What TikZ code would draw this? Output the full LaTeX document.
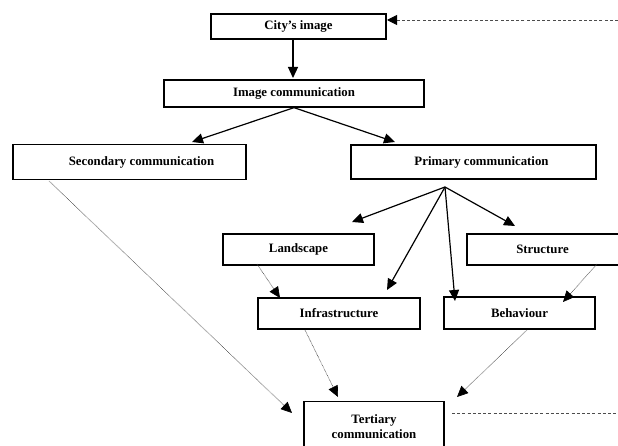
\documentclass[tikz,border=0pt]{standalone}
\usepackage{fontspec}
\setmainfont{Liberation Serif}
\usetikzlibrary{arrows.meta}
\tikzstyle{box}=[draw, line width=1.3pt, rectangle, inner sep=2pt, font=\fontsize{12.8}{15}\selectfont\bfseries]
\tikzstyle{arr}=[line width=1.2pt, -{Triangle[length=11pt,width=10pt]}]
\tikzstyle{dots}=[line width=0.6pt, gray!60!black, dash pattern=on 0.7pt off 0.7pt, -{Triangle[length=11pt,width=10pt,fill=black,color=black]}]
\tikzstyle{dashln}=[line width=0.9pt, gray!60!black, dash pattern=on 3pt off 2.2pt]

\begin{document}
\begin{tikzpicture}[x=1pt, y=-1pt]
\clip (0, 0) rectangle (618, 446);

\node (city) at (298.5, 26.5) [box, minimum width=175, minimum height=25] {City's image};
\node (imgcom) at (294, 93.5) [box, minimum width=260, minimum height=27] {Image communication};

\node (second) at (129.5, 162) [box, minimum width=233, minimum height=35] {\hspace{24pt}Secondary communication};
\node (primary) at (473.5, 162) [box, minimum width=245, minimum height=34] {\hspace{16pt}Primary communication};

\node (land) at (298.5, 249.5) [box, minimum width=151, minimum height=31] {Landscape};
\node (struct) at (544.5, 249.5) [box, minimum width=155, minimum height=31] {\hspace{-4pt}Structure};

\node (infra) at (339, 313.5) [box, minimum width=162, minimum height=31] {Infrastructure};
\node (behav) at (519.5, 313) [box, minimum width=151, minimum height=32] {Behaviour};

\node (tert) at (374, 401) [box, anchor=north, minimum width=140, minimum height=50, align=center] {Tertiary\\communication};

% ends of the connectors
\coordinate (pfan) at (445, 187);
\coordinate (landtip) at (352, 222);
\coordinate (structtip) at (515, 226);
\coordinate (infratip) at (387, 290);
\coordinate (behavtip) at (455, 301);
\coordinate (secl) at (192, 142);
\coordinate (prir) at (395, 142);
\coordinate (citytip) at (293, 78);
\coordinate (topend) at (618, 20);
\coordinate (cityr) at (387, 20);
\coordinate (tertend) at (618, 413);
\coordinate (tertdash) at (452, 413);

\coordinate (secs) at (49, 181);
\coordinate (sectip) at (292, 413);
\coordinate (lands) at (257, 264);
\coordinate (landdot) at (280, 298);
\coordinate (structs) at (597, 264);
\coordinate (structdot) at (563, 302);
\coordinate (infras) at (305, 330);
\coordinate (infradot) at (338, 397);
\coordinate (behavs) at (527, 330);
\coordinate (behavdot) at (457, 397);

% solid arrows
\draw (city.south -| citytip) -- (citytip) [arr];
\draw (imgcom.south) -- (secl) [arr];
\draw (imgcom.south) -- (prir) [arr];

\draw (pfan) -- (landtip) [arr];
\draw (pfan) -- (structtip) [arr];
\draw (pfan) -- (infratip) [arr];
\draw (pfan) -- (behavtip) [arr];

% dotted arrows
\draw (secs) -- (sectip) [dots];
\draw (lands) -- (landdot) [dots];
\draw (structs) -- (structdot) [dots];
\draw (infras) -- (infradot) [dots];
\draw (behavs) -- (behavdot) [dots];

% dashed lines
\draw (topend) -- (cityr) [dashln, -{Triangle[length=10pt,width=10pt,color=black]}];
\draw (tertdash) -- (tertend) [dashln];

\end{tikzpicture}
\end{document}
